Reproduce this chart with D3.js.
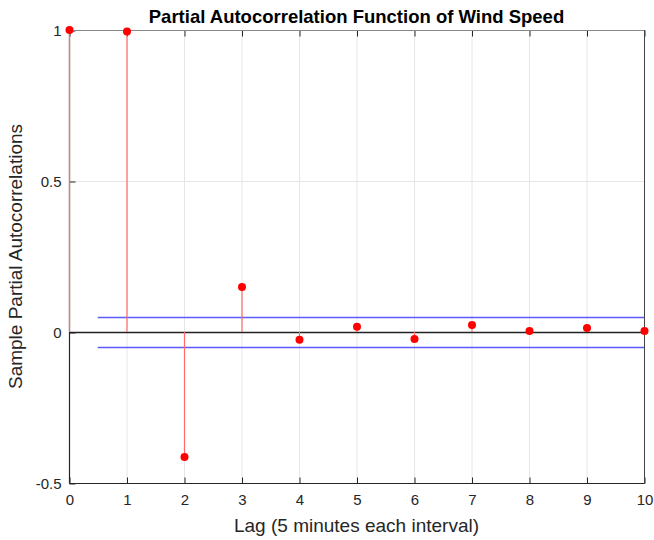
<!DOCTYPE html>
<html>
<head>
<meta charset="utf-8">
<script src="https://cdn.jsdelivr.net/npm/d3@7"></script>
<style>
  body { margin: 0; background: #fff; }
  svg { display: block; font-family: "Liberation Sans", Arial, sans-serif; }
</style>
</head>
<body>
<svg width="654" height="540"></svg>
<script>
const svg = d3.select('svg')

// data
const lags = [0, 1, 2, 3, 4, 5, 6, 7, 8, 9, 10]
const pacf = [1, 0.995, -0.414, 0.149, -0.026, 0.017, -0.023, 0.023, 0.003, 0.013, 0.003]
const bound = 0.05
const boundStart = 0.5
const yTicks = [-0.5, 0, 0.5, 1]

const mLeft = 69, mRight = 644, mTop = 30, mBottom = 483

const x = d3.scaleLinear().domain([0, 10]).range([mLeft, mRight])
const y = d3.scaleLinear().domain([-0.5, 1]).range([mBottom, mTop])

// grid
svg.append('g')
  .selectAll('line')
  .data(lags)
  .enter()
  .append('line')
  .attr('x1', d => x(d) + 0.5).attr('x2', d => x(d) + 0.5)
  .attr('y1', mTop).attr('y2', mBottom)
  .attr('stroke', '#e6e6e6')

svg.append('g')
  .selectAll('line')
  .data(yTicks)
  .enter()
  .append('line')
  .attr('x1', mLeft).attr('x2', mRight)
  .attr('y1', d => Math.round(y(d)) + 0.5).attr('y2', d => Math.round(y(d)) + 0.5)
  .attr('stroke', '#e6e6e6')

// axes
const xAxis = d3.axisBottom(x).tickValues(lags).tickSize(-6).tickPadding(11).tickFormat(d3.format('d'))
const yAxis = d3.axisLeft(y).tickValues(yTicks).tickSize(-6).tickPadding(8).tickFormat(d => d)

const gx = svg.append('g').attr('transform', `translate(0.5, ${mBottom + 0.5})`).call(xAxis)
const gy = svg.append('g').attr('transform', `translate(${mLeft + 0.5}, 0.5)`).call(yAxis)

// top axis ticks (box)
const gt = svg.append('g').attr('transform', `translate(0.5, ${mTop + 0.5})`)
  .call(d3.axisTop(x).tickValues(lags).tickSize(-6).tickFormat(''))
gt.select('.domain').remove()
svg.append('line')
  .attr('x1', mLeft).attr('x2', mRight + 1)
  .attr('y1', mTop + 0.5).attr('y2', mTop + 0.5)
  .attr('stroke', '#888')
svg.append('line')
  .attr('x1', mRight + 0.5).attr('x2', mRight + 0.5)
  .attr('y1', mTop).attr('y2', mBottom + 1)
  .attr('stroke', '#444')

;[gx, gy, gt].forEach(g => {
  g.select('.domain').attr('stroke', '#262626').attr('stroke-width', 1.2)
  g.selectAll('.tick line').attr('stroke', '#262626')
  g.selectAll('.tick text').attr('fill', '#262626').attr('font-size', 15)
    .attr('font-family', '"Liberation Sans", Arial, sans-serif')
})
gx.select('.domain').attr('d', `M${mLeft},0H${mRight}`)
gy.select('.domain').attr('d', `M0,${mTop}V${mBottom}`)

// confidence bounds
svg.append('g')
  .selectAll('line')
  .data([bound, -bound])
  .enter()
  .append('line')
  .attr('x1', x(boundStart)).attr('x2', x(10))
  .attr('y1', d => Math.round(y(d)) + 0.5).attr('y2', d => Math.round(y(d)) + 0.5)
  .style('stroke', '#5a5aff')
  .style('stroke-width', 1.3)

// zero line
svg.append('line')
  .attr('x1', mLeft).attr('x2', mRight)
  .attr('y1', Math.round(y(0)) + 0.5).attr('y2', Math.round(y(0)) + 0.5)
  .attr('stroke', '#222')
  .attr('stroke-width', 1.5)

// stems
svg.append('g')
  .selectAll('line')
  .data(lags)
  .enter()
  .append('line')
  .attr('x1', d => x(d) + 0.5).attr('x2', d => x(d) + 0.5)
  .attr('y1', y(0))
  .attr('y2', (d, i) => y(pacf[i]))
  .attr('stroke', '#ff6a6a')
  .attr('stroke-width', 1.2)

// markers
svg.append('g')
  .selectAll('circle')
  .data(lags)
  .enter()
  .append('circle')
  .attr('cx', d => x(d) + 0.5)
  .attr('cy', (d, i) => y(pacf[i]))
  .attr('r', 4)
  .attr('fill', '#ff0000')

// labels
svg.append('text')
  .attr('x', (mLeft + mRight) / 2)
  .attr('y', 23)
  .attr('text-anchor', 'middle')
  .attr('font-size', 18.5)
  .attr('font-weight', 'bold')
  .attr('fill', '#000')
  .text('Partial Autocorrelation Function of Wind Speed')

svg.append('text')
  .attr('x', (mLeft + mRight) / 2)
  .attr('y', 532)
  .attr('text-anchor', 'middle')
  .attr('font-size', 19)
  .attr('fill', '#262626')
  .text('Lag (5 minutes each interval)')

svg.append('text')
  .attr('transform', `translate(22, ${(mTop + mBottom) / 2}) rotate(-90)`)
  .attr('text-anchor', 'middle')
  .attr('font-size', 19)
  .attr('fill', '#262626')
  .text('Sample Partial Autocorrelations')
</script>
</body>
</html>
